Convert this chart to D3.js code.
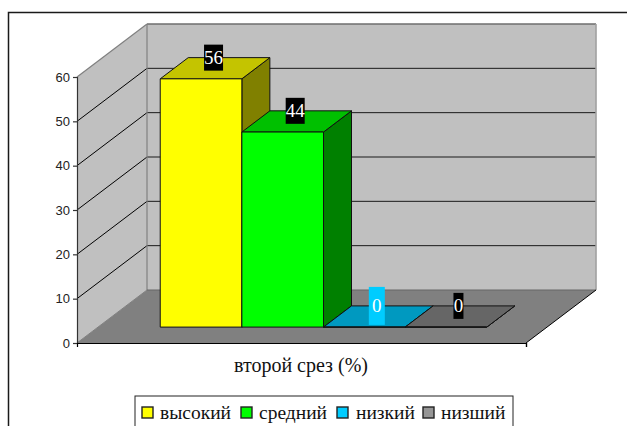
<!DOCTYPE html>
<html><head><meta charset="utf-8">
<script src="https://cdnjs.cloudflare.com/ajax/libs/d3/7.8.5/d3.min.js"></script>
<style>html,body{margin:0;padding:0;background:#fff}svg{display:block}</style></head>
<body><svg id="c" width="627" height="426"></svg>
<script>
const seriesNames = ["высокий","средний","низкий","низший"];
const seriesValues = [56,44,0,0];
const frontColors = ["#FFFF00","#00FF00","#00CCFF","#969696"];
const topColors = ["#C4C400","#00C000","#0099C0","#666666"];
const sideColors = ["#808000","#008000","#006F8C","#4B4B4B"];
const labelFills = ["#000000","#000000","#00CCFF","#000000"];
const labelSizes = [[19,26],[19,26],[16,38],[10,26]];
const yTicks = [0,10,20,30,40,50,60];
const axisTitle = "второй срез (%)";
const legendX = [[142,160],[241,259],[337,356],[423,441]];

const svg = d3.select("#c");
const serif = "'Liberation Serif','Times New Roman',serif";
const X0=77, X1=526, DX=70, DY=53;
const y = d3.scaleLinear().domain([0,60]).range([343,77]);
const x = d3.scaleBand().domain(seriesNames).range([X0+1,X1+1]).paddingInner(0).paddingOuter(0.75);
const dNear=0.3, dFar=0.7;
const poly=(pts,fill,stroke,sw)=>svg.append("polygon").attr("points",pts.map(p=>p.join(",")).join(" "))
  .attr("fill",fill).attr("stroke",stroke||"none").attr("stroke-width",sw||1).attr("stroke-linejoin","miter");
const line=(a,b,c,w)=>svg.append("line").attr("x1",a[0]).attr("y1",a[1]).attr("x2",b[0]).attr("y2",b[1]).attr("stroke",c).attr("stroke-width",w||1);

// outer frame (open right and bottom)
svg.append("path").attr("d","M8.5,426V12.5H627").attr("fill","none").attr("stroke","#1a1a1a").attr("stroke-width",1.5);

// walls
poly([[X0+DX,y(60)-DY],[X1+DX,y(60)-DY],[X1+DX,y(0)-DY],[X0+DX,y(0)-DY]],"#C0C0C0");
poly([[X0,y(60)],[X0+DX,y(60)-DY],[X0+DX,y(0)-DY],[X0,y(0)]],"#C0C0C0");
poly([[X0,y(0)],[X0+DX,y(0)-DY],[X1+DX,y(0)-DY],[X1,y(0)]],"#808080");

// gridlines
yTicks.filter(t=>t>0&&t<60).forEach(t=>{
  line([X0,y(t)],[X0+DX,y(t)-DY],"#000",1);
  line([X0+DX,y(t)-DY],[X1+DX,y(t)-DY],"#1a1a1a",1);
});
// wall edges
line([X0,y(60)],[X0+DX,y(60)-DY],"#808080",1.2);
line([X0+DX,y(60)-DY],[X1+DX,y(60)-DY],"#6e6e6e",1.6);
line([X0+DX,y(60)-DY],[X0+DX,y(0)-DY],"#808080",1.2);
line([X1+DX,y(60)-DY],[X1+DX,y(0)-DY],"#a0a0a0",1.6);
line([X0+DX,y(0)-DY],[X1+DX,y(0)-DY],"#666",1.2);
line([X0,y(0)],[X0+DX,y(0)-DY],"#808080",1);
line([X1,y(0)],[X1+DX,y(0)-DY],"#000",1);

// bars
const ox=d=>DX*d, oy=d=>DY*d;
seriesNames.forEach((s,i)=>{
  const v=seriesValues[i], xl=x(s)+ox(dNear), xr=xl+x.bandwidth();
  const base=y(0)-oy(dNear), top=y(v)-oy(dNear);
  const ddx=ox(dFar-dNear), ddy=oy(dFar-dNear);
  const st="#111";
  poly([[xr,top],[xr+ddx,top-ddy],[xr+ddx,base-ddy],[xr,base]],sideColors[i],st);
  poly([[xl,top],[xl+ddx,top-ddy],[xr+ddx,top-ddy],[xr,top]],topColors[i],st);
  poly([[xl,top],[xr,top],[xr,base],[xl,base]],frontColors[i],st);
});
// data labels
seriesNames.forEach((s,i)=>{
  const v=seriesValues[i];
  const cx=x(s)+ox(dNear)+x.bandwidth()/2+ox((dFar-dNear)/2)-1.5;
  const cy=y(v)-oy(dFar);
  const [w,h]=labelSizes[i];
  svg.append("rect").attr("x",cx-w/2).attr("y",cy-h/2).attr("width",w).attr("height",h).attr("fill",labelFills[i]);
  svg.append("text").attr("x",cx).attr("y",cy+6.5).attr("text-anchor","middle")
    .attr("font-family",serif).attr("font-size",19).attr("fill","#fff").text(v);
});

// y axis
const ax=svg.append("g").attr("transform",`translate(${X0},0)`)
  .call(d3.axisLeft(y).tickValues(yTicks).tickSize(4).tickPadding(3).tickFormat(d3.format("d")));
ax.selectAll("text").attr("font-family","'Liberation Sans',Arial,sans-serif").attr("font-size",13).attr("fill","#222");
ax.selectAll("line,path").attr("stroke","#333").attr("stroke-width",1.2);
// x axis
const bx=svg.append("g").attr("transform",`translate(0,${y(0)})`)
  .call(d3.axisBottom(d3.scaleLinear().domain([X0,X1]).range([X0,X1])).tickValues([X1]).tickSize(4).tickFormat(""));
bx.selectAll("line,path").attr("stroke","#000").attr("stroke-width",1.2);

svg.append("text").attr("x",301).attr("y",372).attr("text-anchor","middle")
  .attr("font-family",serif).attr("font-size",20).attr("fill","#111").text(axisTitle);

// legend
svg.append("rect").attr("x",135).attr("y",396).attr("width",378).attr("height",40)
  .attr("fill","#fff").attr("stroke","#222").attr("stroke-width",1);
seriesNames.forEach((s,i)=>{
  svg.append("rect").attr("x",legendX[i][0]).attr("y",407).attr("width",11).attr("height",11)
    .attr("fill",frontColors[i]).attr("stroke","#222").attr("stroke-width",1.4);
  svg.append("text").attr("x",legendX[i][1]).attr("y",418.5).attr("font-family",serif)
    .attr("font-size",19.5).attr("fill","#111").text(s);
});
</script></body></html>
